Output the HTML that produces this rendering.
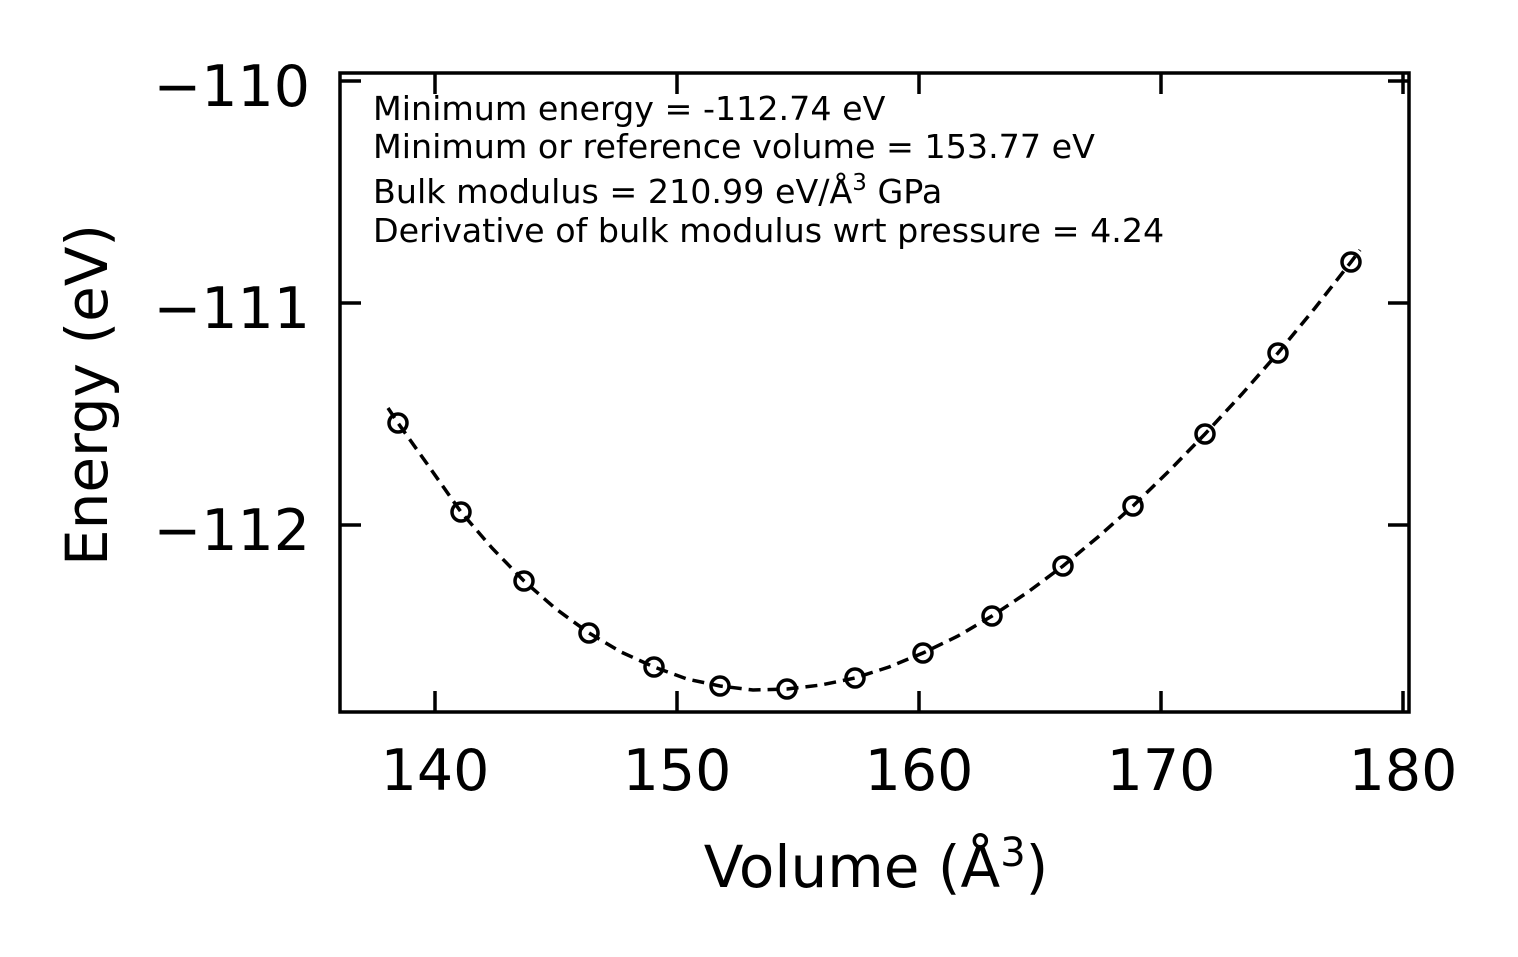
<!DOCTYPE html>
<html><head><meta charset="utf-8"><style>
html,body{margin:0;padding:0;background:#fff;}
svg{display:block;font-family:"DejaVu Sans","Liberation Sans",sans-serif;}
</style></head><body>
<svg width="1518" height="957" viewBox="0 0 1518 957" xmlns="http://www.w3.org/2000/svg">
<rect width="1518" height="957" fill="#fff"/>
<polyline fill="none" stroke="#000" stroke-width="3.5" stroke-dasharray="12,7"
points="388,408 398,423 430,468 461,512 492,548 524,581 556,609 589,633 621,652 654,667 687,679 720,686 753,690 787,689 821,685 855,678 889,667 923,653 958,636 992,616 1028,592 1063,566 1098,537 1133,506 1169,471 1205,434 1242,394 1278,353 1315,308 1351,262 1360,250"/>
<g fill="none" stroke="#000" stroke-width="3.5">
<circle cx="398" cy="423" r="9"/><circle cx="461" cy="512" r="9"/><circle cx="524" cy="581" r="9"/>
<circle cx="589" cy="633" r="9"/><circle cx="654" cy="667" r="9"/><circle cx="720" cy="686" r="9"/>
<circle cx="787" cy="689" r="9"/><circle cx="855" cy="678" r="9"/><circle cx="923" cy="653" r="9"/>
<circle cx="992" cy="616" r="9"/><circle cx="1063" cy="566" r="9"/><circle cx="1133" cy="506" r="9"/>
<circle cx="1205" cy="434" r="9"/><circle cx="1278" cy="353" r="9"/><circle cx="1351" cy="262" r="9"/>
</g>
<rect x="340" y="73" width="1069" height="639" fill="none" stroke="#000" stroke-width="3.5"/>
<g stroke="#000" stroke-width="3.5">
<line x1="435" y1="712" x2="435" y2="691"/><line x1="677" y1="712" x2="677" y2="691"/>
<line x1="919" y1="712" x2="919" y2="691"/><line x1="1161" y1="712" x2="1161" y2="691"/>
<line x1="1403" y1="712" x2="1403" y2="691"/>
<line x1="435" y1="73" x2="435" y2="94"/><line x1="677" y1="73" x2="677" y2="94"/>
<line x1="919" y1="73" x2="919" y2="94"/><line x1="1161" y1="73" x2="1161" y2="94"/>
<line x1="1403" y1="73" x2="1403" y2="94"/>
<line x1="340" y1="81" x2="361" y2="81"/><line x1="340" y1="303" x2="361" y2="303"/><line x1="340" y1="525" x2="361" y2="525"/>
<line x1="1409" y1="81" x2="1388" y2="81"/><line x1="1409" y1="303" x2="1388" y2="303"/><line x1="1409" y1="525" x2="1388" y2="525"/>
</g>
<g font-size="57" fill="#000" text-anchor="middle">
<text x="435" y="790">140</text><text x="677" y="790">150</text><text x="919" y="790">160</text>
<text x="1161" y="790">170</text><text x="1403" y="790">180</text>
</g>
<g font-size="57" fill="#000" text-anchor="end">
<text x="310" y="106">−110</text><text x="310" y="328">−111</text><text x="310" y="550">−112</text>
</g>
<text x="876" y="887" font-size="58" text-anchor="middle">Volume (Å<tspan font-size="40" dy="-21">3</tspan><tspan dy="21">)</tspan></text>
<text transform="translate(107,395) rotate(-90)" font-size="58" text-anchor="middle">Energy (eV)</text>
<g font-size="33.3" fill="#000">
<text x="373" y="120">Minimum energy = -112.74 eV</text>
<text x="373" y="158">Minimum or reference volume = 153.77 eV</text>
<text x="373" y="203">Bulk modulus = 210.99 eV/Å<tspan font-size="23" dy="-13">3</tspan><tspan dy="13"> GPa</tspan></text>
<text x="373" y="242">Derivative of bulk modulus wrt pressure = 4.24</text>
</g>
</svg>
</body></html>
